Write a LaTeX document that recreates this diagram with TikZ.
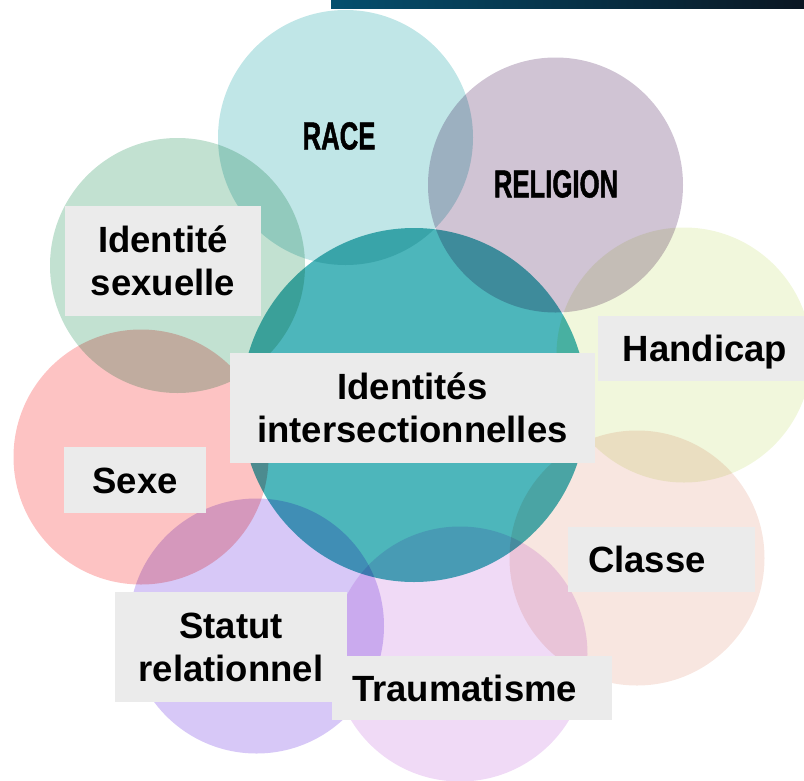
\documentclass[tikz,border=0pt]{standalone}
\usepackage{fontspec}
\setmainfont{Liberation Sans}
\newfontfamily\condfont[FakeStretch=0.66, FakeBold=1.2]{Liberation Sans}
\usepackage{tikz}
\usetikzlibrary{shapes}

\definecolor{raceC}{HTML}{C0E6E7}
\definecolor{religionC}{HTML}{D0C4D4}
\definecolor{sexuelleC}{HTML}{C2E1D1}
\definecolor{handicapC}{HTML}{F1F7DC}
\definecolor{sexeC}{HTML}{FDC3C3}
\definecolor{statutC}{HTML}{D7C8F7}
\definecolor{traumaC}{HTML}{F0DAF6}
\definecolor{classeC}{HTML}{F8E6E0}
\definecolor{centreC}{HTML}{4DB6BB}
\definecolor{tagC}{HTML}{EBEBEB}
\definecolor{barL}{HTML}{044F6E}
\definecolor{barR}{HTML}{0A1622}

\begin{document}
\begin{tikzpicture}[x=1pt, y=-1pt,
    blob/.style={circle, minimum size=255pt, inner sep=0pt},
    tag/.style={fill=tagC, inner sep=0pt, align=center,
      font=\fontsize{36.5}{43}\selectfont\bfseries},
    oneline/.style={tag, text height=26pt, text depth=0pt},
    big/.style={font=\condfont\bfseries\fontsize{39}{40}\selectfont}]
    \path[use as bounding box, clip] (0,0) rectangle (804,780);
    \shade[left color=barL, right color=barR] (331,0) rectangle (804,8);
    \begin{scope}[blend mode=multiply]
    \node[blob, fill=raceC] (Race) at (345.5,137.5) {};
    \node[blob, fill=religionC] (Religion) at (555.5,185) {};
    \node[blob, fill=sexuelleC] (Sexuelle) at (177.5,265.5) {};
    \node[blob, fill=handicapC] (Handicap) at (684,355) {};
    \node[blob, fill=sexeC] (Sexe) at (141,457) {};
    \node[blob, fill=classeC] (Classe) at (637,558) {};
    \node[blob, fill=statutC] (Statut) at (256.5,626) {};
    \node[blob, fill=traumaC] (Trauma) at (460,654) {};
    \node[ellipse, minimum width=346pt, minimum height=354pt, inner sep=0pt,
          fill=centreC] (Centre) at (414,405) {};
    \end{scope}
    \node[big] (RaceT) at (339,136) {RACE};
    \node[big] (ReligionT) at (556,184) {RELIGION};
    \node[tag, minimum width=196pt, minimum height=110pt] (SexuelleT) at (163,261) {Identité\\sexuelle};
    \node[oneline, minimum width=214pt, minimum height=65pt] (HandicapT) at (705,348.5) {Handicap};
    \node[tag, minimum width=365pt, minimum height=110pt] (CentreT) at (412.5,408) {Identités\\intersectionnelles};
    \node[oneline, minimum width=142pt, minimum height=66pt] (SexeT) at (135,480) {Sexe};
    \node[oneline, minimum width=187pt, minimum height=65pt, text width=147pt, align=left] (ClasseT) at (661.5,559.5) {Classe};
    \node[tag, minimum width=232pt, minimum height=110pt] (StatutT) at (231,647) {Statut\\relationnel};
    \node[oneline, minimum width=280pt, minimum height=64pt, text width=240pt, align=left] (TraumaT) at (472,688) {Traumatisme};
\end{tikzpicture}
\end{document}
